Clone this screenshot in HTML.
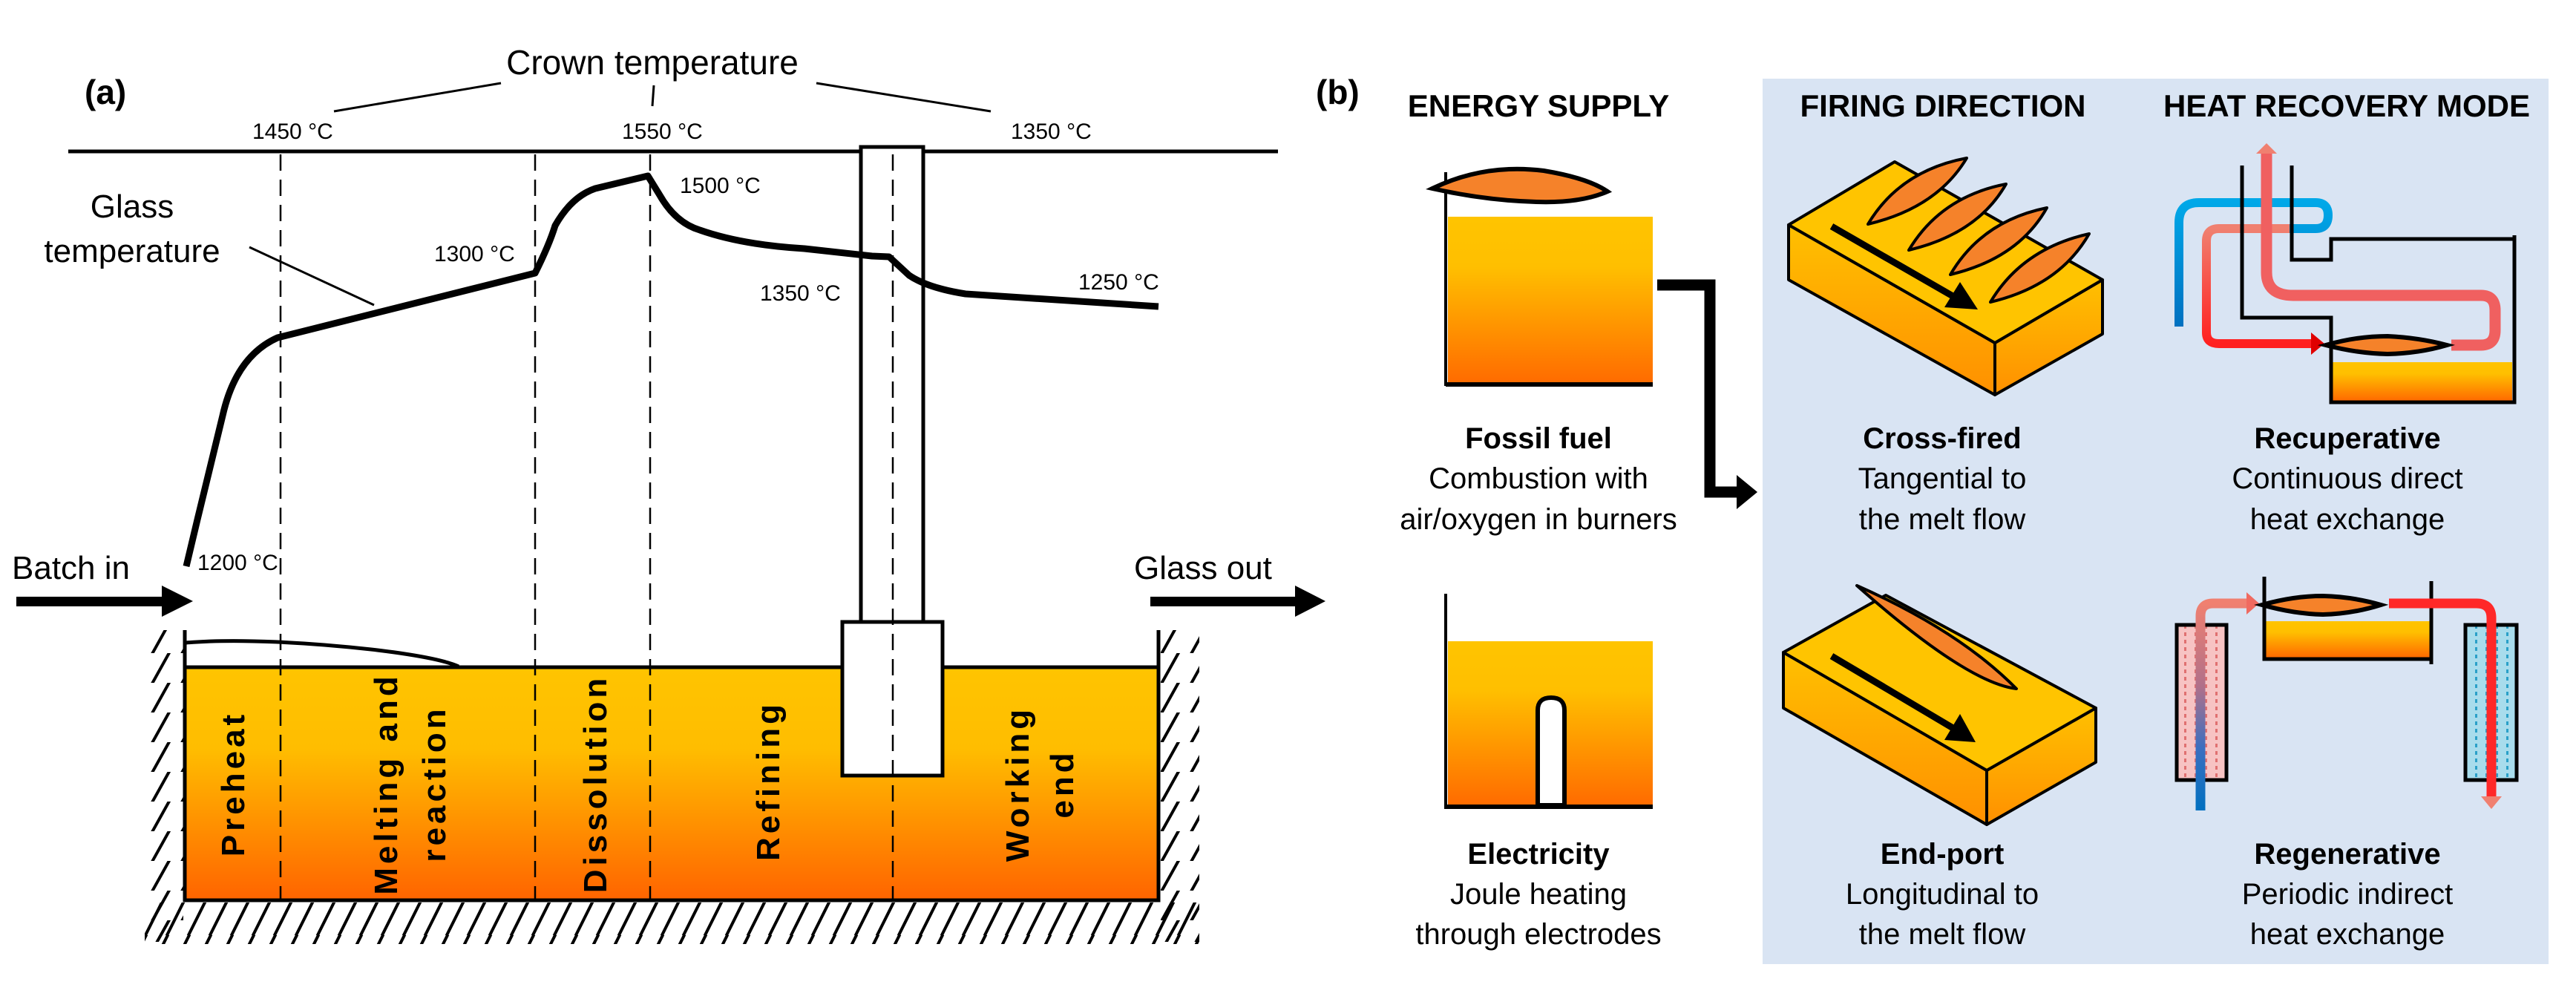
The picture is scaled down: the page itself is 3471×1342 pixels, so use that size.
<!DOCTYPE html>
<html><head><meta charset="utf-8"><style>
html,body{margin:0;padding:0;background:#fff}
svg{display:block}
text{font-family:"Liberation Sans Narrow","Liberation Sans",sans-serif}
.n{font-family:"Liberation Sans Narrow","Liberation Sans",sans-serif}
.v{font-family:"Liberation Sans",sans-serif;font-weight:bold;font-size:44px;letter-spacing:5px}
</style></head><body>
<svg width="3471" height="1342" viewBox="0 0 3471 1342" xmlns="http://www.w3.org/2000/svg">
<defs>
<linearGradient id="melt" x1="0" y1="0" x2="0" y2="1"><stop offset="0" stop-color="#ffc400"/><stop offset="0.35" stop-color="#ffbd00"/><stop offset="1" stop-color="#ff6400"/></linearGradient>
<linearGradient id="melt2" x1="0" y1="0" x2="0" y2="1"><stop offset="0" stop-color="#ffc400"/><stop offset="0.3" stop-color="#ffbf00"/><stop offset="1" stop-color="#ff6a00"/></linearGradient>
<linearGradient id="side" x1="0" y1="0" x2="0" y2="1"><stop offset="0" stop-color="#ffc000"/><stop offset="1" stop-color="#ff9000"/></linearGradient>
<linearGradient id="bluep" x1="0" y1="0" x2="0" y2="1"><stop offset="0" stop-color="#00a8e8"/><stop offset="1" stop-color="#0070c0"/></linearGradient>
<linearGradient id="pinkred" x1="0" y1="0" x2="0" y2="1"><stop offset="0" stop-color="#f08070"/><stop offset="1" stop-color="#ff2020"/></linearGradient>
<linearGradient id="regl" x1="0" y1="1" x2="0" y2="0"><stop offset="0" stop-color="#0070c0"/><stop offset="0.3" stop-color="#3a6fc0"/><stop offset="0.6" stop-color="#b0708a"/><stop offset="1" stop-color="#f08070"/></linearGradient>
<pattern id="hatchL" width="40" height="40" patternUnits="userSpaceOnUse"><line x1="0" y1="50" x2="50" y2="-40" stroke="#000" stroke-width="4"/></pattern>
<pattern id="hatchB" width="29" height="60" patternUnits="userSpaceOnUse"><line x1="-8" y1="62" x2="24" y2="-2" stroke="#000" stroke-width="4"/><line x1="21" y1="62" x2="53" y2="-2" stroke="#000" stroke-width="4"/></pattern>
<pattern id="dotsR" width="14" height="10" patternUnits="userSpaceOnUse"><rect width="14" height="10" fill="#f7c3c3"/><rect x="3" y="2" width="3" height="5" fill="#e07070"/></pattern>
<pattern id="dotsB" width="14" height="10" patternUnits="userSpaceOnUse"><rect width="14" height="10" fill="#a8dcec"/><rect x="3" y="2" width="3" height="5" fill="#2aa0c8"/></pattern>
</defs>

<!-- ===== Panel (a) ===== -->
<text x="114" y="140" font-family="Liberation Sans" font-weight="bold" font-size="46">(a)</text>
<text x="879" y="100" font-size="46" text-anchor="middle">Crown temperature</text>
<g stroke="#000" stroke-width="3">
<line x1="450" y1="150" x2="675" y2="112"/><line x1="879" y1="143" x2="881" y2="115"/><line x1="1100" y1="112" x2="1335" y2="150"/>
</g>
<g font-size="30">
<text x="340" y="187">1450 °C</text><text x="838" y="187">1550 °C</text><text x="1362" y="187">1350 °C</text>
<text x="585" y="352">1300 °C</text><text x="916" y="260">1500 °C</text><text x="1024" y="405">1350 °C</text><text x="1453" y="390">1250 °C</text>
<text x="266" y="768">1200 °C</text>
</g>
<line x1="92" y1="204" x2="1722" y2="204" stroke="#000" stroke-width="5"/>
<text x="178" y="293" font-size="44" text-anchor="middle">Glass</text>
<text x="178" y="353" font-size="44" text-anchor="middle">temperature</text>
<line x1="336" y1="333" x2="504" y2="411" stroke="#000" stroke-width="3"/>

<!-- tank -->
<rect x="249" y="899" width="1312" height="314" fill="url(#melt)"/>
<rect x="195" y="849" width="52" height="420" fill="url(#hatchL)"/>
<rect x="1564" y="849" width="52" height="420" fill="url(#hatchL)"/>
<rect x="195" y="1216" width="1421" height="56" fill="url(#hatchB)"/>
<polyline points="249,849 249,1213 1561,1213 1561,849" fill="none" stroke="#000" stroke-width="5"/>
<line x1="249" y1="899" x2="1561" y2="899" stroke="#000" stroke-width="5"/>
<path d="M251,866 C320,860 420,866 500,875 C560,882 600,890 618,898" fill="none" stroke="#000" stroke-width="5"/>
<!-- dashed lines -->
<g stroke="#000" stroke-width="2.5" stroke-dasharray="22,12">
<line x1="378" y1="208" x2="378" y2="1213"/><line x1="721" y1="208" x2="721" y2="1213"/><line x1="876" y1="208" x2="876" y2="1213"/>
</g>
<!-- riser -->
<rect x="1160" y="198" width="84" height="640" fill="#fff" stroke="#000" stroke-width="5"/>
<rect x="1135" y="838" width="135" height="207" fill="#fff" stroke="#000" stroke-width="5"/>
<line x1="1203" y1="208" x2="1203" y2="1213" stroke="#000" stroke-width="2.5" stroke-dasharray="22,12"/>
<!-- glass temp curve -->
<path d="M251,763 L266,700 L300,560 Q318,480 374,455 L721,368 Q740,330 748,304 Q770,265 802,254 L873,237 L889,263 Q910,300 943,310 Q1000,330 1084,335 L1175,345 L1198,346 L1225,371 Q1250,388 1301,396 L1561,413" fill="none" stroke="#000" stroke-width="9" stroke-linejoin="round"/>

<!-- vertical labels -->
<g class="v" fill="#000" text-anchor="middle">
<text transform="translate(329,1056) rotate(-90)">Preheat</text>
<text transform="translate(535,1056) rotate(-90)">Melting and</text>
<text transform="translate(600,1056) rotate(-90)">reaction</text>
<text transform="translate(817,1056) rotate(-90)">Dissolution</text>
<text transform="translate(1050,1052) rotate(-90)">Refining</text>
<text transform="translate(1386,1056) rotate(-90)">Working</text>
<text transform="translate(1446,1056) rotate(-90)">end</text>
</g>

<!-- batch in / glass out -->
<text x="16" y="780" font-size="44">Batch in</text>
<polygon points="22,804 218,804 218,789 260,810 218,831 218,817 22,817" fill="#000"/>
<text x="1528" y="780" font-size="44">Glass out</text>
<polygon points="1550,804 1745,804 1745,789 1786,810 1745,831 1745,817 1550,817" fill="#000"/>

<!-- ===== Panel (b) ===== -->
<rect x="2375" y="106" width="1059" height="1193" fill="#d9e4f3"/>
<text x="1773" y="140" font-family="Liberation Sans" font-weight="bold" font-size="46">(b)</text>
<g font-weight="bold" font-size="42" text-anchor="middle">
<text x="2073" y="157">ENERGY SUPPLY</text>
<text x="2618" y="157">FIRING DIRECTION</text>
<text x="3162" y="157">HEAT RECOVERY MODE</text>
</g>

<!-- fossil fuel tank -->
<rect x="1951" y="292" width="276" height="226" fill="url(#melt2)"/>
<line x1="1948" y1="232" x2="1948" y2="520" stroke="#000" stroke-width="4"/>
<line x1="1948" y1="518" x2="2227" y2="518" stroke="#000" stroke-width="6"/>
<path d="M1930,254 Q2000,220 2080,230 Q2140,240 2166,258 Q2130,274 2070,272 Q2000,270 1930,254 Z" fill="#f5822a" stroke="#000" stroke-width="6"/>
<!-- connecting arrow -->
<polyline points="2233,384 2304,384 2304,663 2345,663" fill="none" stroke="#000" stroke-width="15"/>
<polygon points="2340,640 2368,663 2340,686" fill="#000"/>

<!-- electricity tank -->
<rect x="1951" y="864" width="276" height="223" fill="url(#melt2)"/>
<line x1="1948" y1="800" x2="1948" y2="1090" stroke="#000" stroke-width="4"/>
<line x1="1948" y1="1087" x2="2227" y2="1087" stroke="#000" stroke-width="6"/>
<path d="M2072,1085 L2072,957 Q2072,940 2090,940 Q2108,940 2108,957 L2108,1085 Z" fill="#fff" stroke="#000" stroke-width="6"/>

<g font-size="40" text-anchor="middle">
<text x="2073" y="604" font-weight="bold">Fossil fuel</text>
<text x="2073" y="658">Combustion with</text>
<text x="2073" y="713">air/oxygen in burners</text>
<text x="2073" y="1164" font-weight="bold">Electricity</text>
<text x="2073" y="1218">Joule heating</text>
<text x="2073" y="1272">through electrodes</text>
<text x="2617" y="604" font-weight="bold">Cross-fired</text>
<text x="2617" y="658">Tangential to</text>
<text x="2617" y="713">the melt flow</text>
<text x="2617" y="1164" font-weight="bold">End-port</text>
<text x="2617" y="1218">Longitudinal to</text>
<text x="2617" y="1272">the melt flow</text>
<text x="3163" y="604" font-weight="bold">Recuperative</text>
<text x="3163" y="658">Continuous direct</text>
<text x="3163" y="713">heat exchange</text>
<text x="3163" y="1164" font-weight="bold">Regenerative</text>
<text x="3163" y="1218">Periodic indirect</text>
<text x="3163" y="1272">heat exchange</text>
</g>

<!-- cross-fired box -->
<g stroke="#000" stroke-width="4" stroke-linejoin="round">
<polygon points="2410,303 2688,462 2688,532 2410,377" fill="url(#side)"/>
<polygon points="2688,462 2833,377 2833,450 2688,532" fill="url(#side)"/>
<polygon points="2410,303 2553,218 2833,377 2688,462" fill="#ffc400"/>
<path d="M2517,302 Q2560,230 2650,213 Q2610,280 2517,302 Z" fill="#f5822a"/>
<path d="M2572,337 Q2615,265 2703,248 Q2665,315 2572,337 Z" fill="#f5822a"/>
<path d="M2628,370 Q2670,298 2758,280 Q2720,348 2628,370 Z" fill="#f5822a"/>
<path d="M2682,407 Q2725,335 2815,315 Q2775,385 2682,407 Z" fill="#f5822a"/>
</g>
<line x1="2468" y1="305" x2="2640" y2="404" stroke="#000" stroke-width="9"/>
<polygon points="2620,414 2641,380 2665,417" fill="#000"/>

<!-- end-port box -->
<g stroke="#000" stroke-width="4" stroke-linejoin="round">
<polygon points="2403,879 2677,1038 2677,1111 2403,954" fill="url(#side)"/>
<polygon points="2677,1038 2824,954 2824,1027 2677,1111" fill="url(#side)"/>
<polygon points="2403,879 2541,802 2824,954 2677,1038" fill="#ffc400"/>
<path d="M2502,789 Q2640,850 2717,928 Q2650,920 2502,789 Z" fill="#f5822a"/>
</g>
<line x1="2468" y1="884" x2="2640" y2="986" stroke="#000" stroke-width="9"/>
<polygon points="2620,997 2641,962 2662,1000" fill="#000"/>

<!-- recuperative -->
<rect x="3143" y="488" width="242" height="52" fill="url(#melt2)"/>
<path d="M2936,440 L2936,300 Q2936,273 2963,273 L3120,273 Q3137,273 3137,290 Q3137,308 3120,308 L3085,308" fill="none" stroke="url(#bluep)" stroke-width="12"/>
<path d="M3085,308 L2990,308 Q2973,308 2973,325 L2973,448 Q2973,463 2990,463 L3118,463" fill="none" stroke="url(#pinkred)" stroke-width="12"/>
<polygon points="3114,448 3132,463 3114,478" fill="#e00000"/>
<path d="M3303,465 L3343,465 Q3362,465 3362,445 L3362,418 Q3362,398 3343,398 L3090,398 Q3054,398 3054,367 L3054,205" fill="none" stroke="#f06060" stroke-width="15"/>
<polygon points="3040,207 3054,193 3068,207" fill="#f08070"/>
<g stroke="#000" stroke-width="5" fill="none">
<polyline points="3021,223 3021,428 3141,428 3141,542 3388,542 3388,317"/>
<polyline points="3088,223 3088,350 3141,350 3141,322 3390,322"/>
</g>
<path d="M3134,465 Q3175,453 3217,453 Q3260,455 3297,465 Q3260,476 3217,477 Q3175,476 3134,465 Z" fill="#f5822a" stroke="#000" stroke-width="6"/>

<!-- regenerative -->
<rect x="2933" y="842" width="67" height="209" fill="url(#dotsR)" stroke="#000" stroke-width="5"/>
<rect x="3322" y="842" width="69" height="209" fill="url(#dotsB)" stroke="#000" stroke-width="5"/>
<rect x="3052" y="837" width="224" height="49" fill="url(#melt2)"/>
<polyline points="3051,777 3051,888 3276,888" fill="none" stroke="#000" stroke-width="5"/>
<line x1="3276" y1="783" x2="3276" y2="895" stroke="#000" stroke-width="5"/>
<path d="M2965,1092 L2965,830 Q2965,813 2982,813 L3030,813" fill="none" stroke="url(#regl)" stroke-width="13"/>
<polygon points="3027,798 3044,813 3027,828" fill="#f06a60"/>
<path d="M3219,813 L3337,813 Q3357,813 3357,833 L3357,1075" fill="none" stroke="#ff2828" stroke-width="13"/>
<polygon points="3343,1073 3371,1073 3357,1090" fill="#f08070"/>
<path d="M3048,815 Q3090,803 3130,803 Q3170,804 3208,815 Q3170,827 3130,828 Q3090,827 3048,815 Z" fill="#f5822a" stroke="#000" stroke-width="6"/>
</svg>
</body></html>
